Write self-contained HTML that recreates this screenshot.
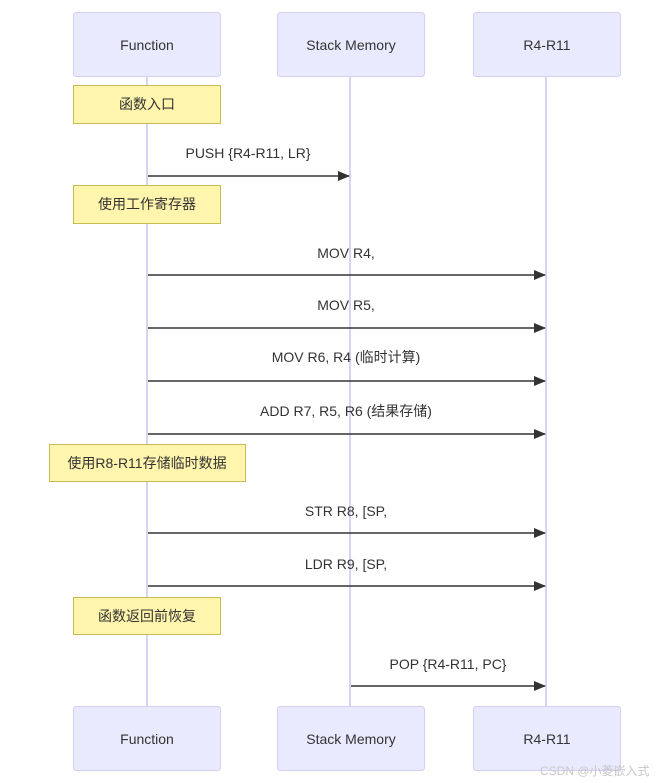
<!DOCTYPE html>
<html><head><meta charset="utf-8"><style>
html,body{margin:0;padding:0;background:#fff;}
svg{display:block;}
text{font-family:"Liberation Sans","Noto Sans CJK SC",sans-serif;font-size:14px;fill:#333;}
.a{fill:#eaeaff;stroke:#d4cdf5;stroke-width:1;}
.n{fill:#fff5ad;stroke:#c8bc50;stroke-width:1;}
.l{stroke:#d9d2f2;stroke-width:2;}
.m{stroke:#333;stroke-width:1.5;}
</style></head><body>
<svg width="656" height="783" viewBox="0 0 656 783" xmlns="http://www.w3.org/2000/svg">
<defs><marker id="ar" markerWidth="12" markerHeight="10" refX="11" refY="5" orient="auto" markerUnits="userSpaceOnUse"><path d="M0,0 L12,5 L0,10 z" fill="#333"/></marker></defs>
<line class="l" x1="147" y1="76" x2="147" y2="706"/>
<line class="l" x1="350" y1="76" x2="350" y2="706"/>
<line class="l" x1="546" y1="76" x2="546" y2="706"/>
<g text-anchor="middle">
<rect class="a" x="73.5" y="12.5" width="147" height="64" rx="3"/><text x="147" y="50">Function</text>
<rect class="a" x="277.5" y="12.5" width="147" height="64" rx="3"/><text x="351" y="50">Stack Memory</text>
<rect class="a" x="473.5" y="12.5" width="147" height="64" rx="3"/><text x="547" y="50">R4-R11</text>
<rect class="a" x="73.5" y="706.5" width="147" height="64" rx="3"/><text x="147" y="744">Function</text>
<rect class="a" x="277.5" y="706.5" width="147" height="64" rx="3"/><text x="351" y="744">Stack Memory</text>
<rect class="a" x="473.5" y="706.5" width="147" height="64" rx="3"/><text x="547" y="744">R4-R11</text>

<rect class="n" x="73.5" y="85.5" width="147" height="38"/><text x="147" y="109">函数入口</text>
<rect class="n" x="73.5" y="185.5" width="147" height="38"/><text x="147" y="209">使用工作寄存器</text>
<rect class="n" x="49.5" y="444.5" width="196" height="37"/><text x="147" y="468">使用R8-R11存储临时数据</text>
<rect class="n" x="73.5" y="597.5" width="147" height="37"/><text x="147" y="621">函数返回前恢复</text>

<text x="248" y="158">PUSH {R4-R11, LR}</text>
<line class="m" x1="148" y1="176" x2="349" y2="176" marker-end="url(#ar)"/>
<text x="346" y="258">MOV R4,</text>
<line class="m" x1="148" y1="275" x2="545" y2="275" marker-end="url(#ar)"/>
<text x="346" y="310">MOV R5,</text>
<line class="m" x1="148" y1="328" x2="545" y2="328" marker-end="url(#ar)"/>
<text x="346" y="362">MOV R6, R4 (临时计算)</text>
<line class="m" x1="148" y1="381" x2="545" y2="381" marker-end="url(#ar)"/>
<text x="346" y="416">ADD R7, R5, R6 (结果存储)</text>
<line class="m" x1="148" y1="434" x2="545" y2="434" marker-end="url(#ar)"/>
<text x="346" y="516">STR R8, [SP,</text>
<line class="m" x1="148" y1="533" x2="545" y2="533" marker-end="url(#ar)"/>
<text x="346" y="569">LDR R9, [SP,</text>
<line class="m" x1="148" y1="586" x2="545" y2="586" marker-end="url(#ar)"/>
<text x="448" y="669">POP {R4-R11, PC}</text>
<line class="m" x1="351" y1="686" x2="545" y2="686" marker-end="url(#ar)"/>
</g>
<text x="540" y="775" style="font-size:12px;fill:#c8c8c8">CSDN @小菱嵌入式</text>
</svg>
</body></html>
